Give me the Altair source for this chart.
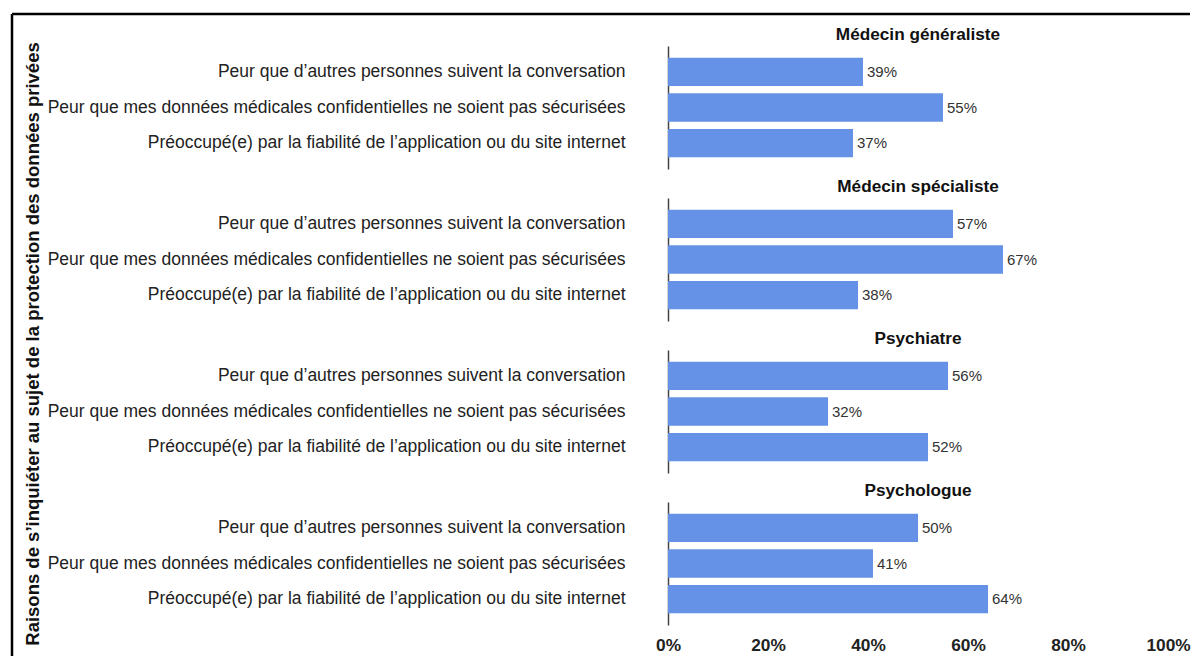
import altair as alt
import pandas as pd

groups = ["Médecin généraliste", "Médecin spécialiste", "Psychiatre", "Psychologue"]
reasons = [
    "Peur que d’autres personnes suivent la conversation",
    "Peur que mes données médicales confidentielles ne soient pas sécurisées",
    "Préoccupé(e) par la fiabilité de l’application ou du site internet",
]
values_generaliste = [0.39, 0.55, 0.37]
values_specialiste = [0.57, 0.67, 0.38]
values_psychiatre = [0.56, 0.32, 0.52]
values_psychologue = [0.50, 0.41, 0.64]
x_ticks = [0, 0.2, 0.4, 0.6, 0.8, 1.0]
y_title = "Raisons de s’inquiéter au sujet de la protection des données privées"

series = [values_generaliste, values_specialiste, values_psychiatre, values_psychologue]
rows = []
for g, vals in zip(groups, series):
    for r, v in zip(reasons, vals):
        rows.append({"panel": g, "reason": r, "value": v})
df = pd.DataFrame(rows)

FONT = "Liberation Sans"

y_enc = alt.Y(
    "reason:N",
    sort=reasons,
    scale=alt.Scale(paddingInner=0.205, paddingOuter=0.33),
    axis=alt.Axis(
        title=None,
        labelFontSize=17.5,
        labelColor="#222222",
        labelPadding=43,
        ticks=False,
        tickSize=0,
        domainColor="#444444",
        domainWidth=1.5,
        labelLimit=0,
    ),
)

x_enc = alt.X(
    "value:Q",
    scale=alt.Scale(domain=[0, 1]),
    axis=alt.Axis(
        values=x_ticks,
        format=".0%",
        title=None,
        grid=False,
        domain=False,
        ticks=False,
        tickSize=0,
        labelFlush=False,
        labelFontSize=17.3,
        labelFontWeight="bold",
        labelColor="#222222",
        labelPadding=11,
    ),
)

bars = alt.Chart().mark_bar(color="#6592e6").encode(x=x_enc, y=y_enc)

value_labels = alt.Chart().mark_text(
    align="left", dx=4, fontSize=15, color="#333333"
).encode(
    x=alt.X("value:Q"),
    y=alt.Y("reason:N", sort=reasons),
    text=alt.Text("value:Q", format=".0%"),
)

panel_titles = alt.Chart().transform_filter(
    alt.datum.reason == reasons[0]
).mark_text(
    fontSize=17.2, fontWeight="bold", color="#111111", baseline="alphabetic", align="center"
).encode(
    x=alt.value(250), y=alt.value(-6), text="panel:N"
)

first_cell = (alt.datum.panel == groups[0]) & (alt.datum.reason == reasons[0])

y_title_text = alt.Chart().transform_filter(first_cell).mark_text(
    text=y_title,
    angle=270,
    fontSize=18.5,
    fontWeight="bold",
    color="#111111",
    align="center",
    baseline="alphabetic",
).encode(
    x=alt.value(-629), y=alt.value(298)
)

border_top = alt.Chart().transform_filter(first_cell).mark_rule(
    color="black", strokeWidth=2.5
).encode(
    x=alt.value(-656), x2=alt.value(522), y=alt.value(-32)
)

border_left = alt.Chart().transform_filter(first_cell).mark_rule(
    color="black", strokeWidth=2.5
).encode(
    x=alt.value(-656), y=alt.value(-32), y2=alt.value(610)
)

chart = (
    alt.layer(
        bars, value_labels, panel_titles, y_title_text, border_top, border_left, data=df
    )
    .properties(width=500, height=123)
    .facet(
        row=alt.Row(
            "panel:N",
            sort=groups,
            header=alt.Header(labels=False, title=None),
        ),
        spacing=29,
        bounds="flush",
    )
    .properties(padding={"left": 2, "top": 4, "right": 0, "bottom": 0})
    .configure(font=FONT)
    .configure_view(stroke=None)
)

chart.save("out.html", embed_options={"renderer": "svg", "actions": False})
